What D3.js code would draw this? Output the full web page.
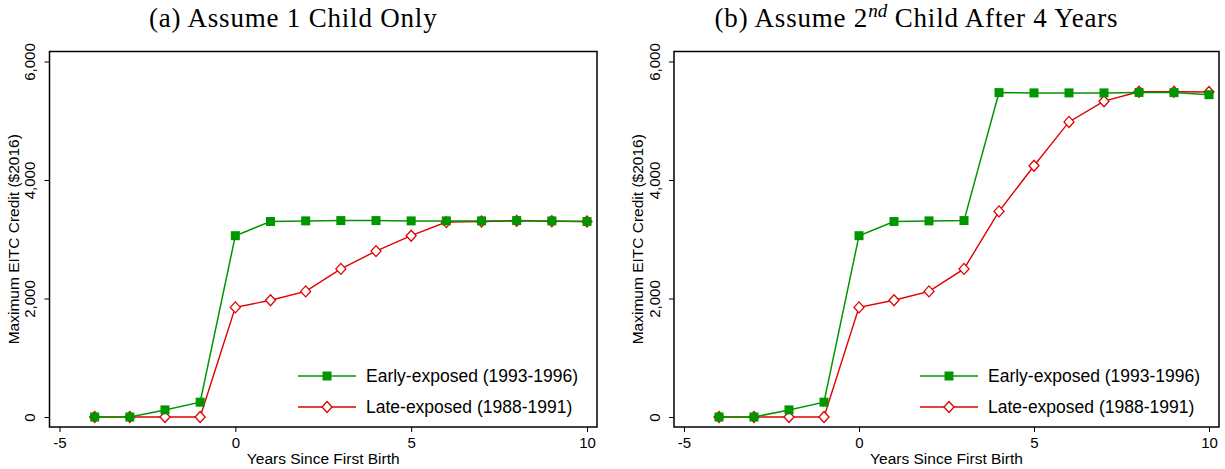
<!DOCTYPE html>
<meta charset="utf-8">
<script src="https://cdn.jsdelivr.net/npm/d3@7"></script>
<style>
  body { margin: 0; background: #fff; }
  text { font-family: "Liberation Sans", Arial, sans-serif; fill: #000; }
  .title { font-family: "Liberation Serif", "Times New Roman", serif; font-size: 27px; letter-spacing: 0.8px; }
  .tick text { font-size: 15px; }
  .axis-title { font-size: 15.5px; }
  .legend text { font-size: 17.5px; }
</style>
<body>
<script>

// years since first birth
var years = [-4, -3, -2, -1, 0, 1, 2, 3, 4, 5, 6, 7, 8, 9, 10];

// panel (a): assume 1 child only
var earlyA = [0, 0, 120, 250, 3060, 3300, 3310, 3315, 3315, 3310, 3310, 3310, 3315, 3310, 3300];
var lateA  = [0, 0, 0, 0, 1850, 1970, 2120, 2500, 2800, 3060, 3290, 3300, 3310, 3305, 3300];

// panel (b): assume 2nd child after 4 years
var earlyB = [0, 0, 120, 250, 3060, 3300, 3310, 3315, 5475, 5470, 5470, 5470, 5478, 5475, 5440];
var lateB  = [0, 0, 0, 0, 1850, 1970, 2120, 2500, 3470, 4240, 4980, 5330, 5490, 5490, 5485];

var xTicks = [-5, 0, 5, 10];
var yTicks = [0, 2000, 4000, 6000];
var seriesNames = ["Early-exposed (1993-1996)", "Late-exposed (1988-1991)"];

var width = 1225,
    height = 469;

var green = "#009600",
    red = "#e00000";

var panels = [
  { title: ["(a) Assume 1 Child Only"], early: earlyA, late: lateA, left: 49.5, right: 597 },
  { title: ["(b) Assume 2", "nd", " Child After 4 Years"], early: earlyB, late: lateB, left: 674, right: 1219 }
];

var plotTop = 51.5,
    plotBottom = 427;

var svg = d3.select("body").append("svg")
    .attr("width", width)
    .attr("height", height);

panels.forEach(function(p) {
  var g = svg.append("g");

  var x = d3.scaleLinear().domain([-5, 10]).range([p.left + 10, p.right - 10]);
  var y = d3.scaleLinear().domain([0, 6000]).range([plotBottom - 10, plotTop + 10]);

  // title
  var t = g.append("text")
      .attr("class", "title")
      .attr("x", (p.left + p.right) / 2 - 30)
      .attr("y", 27)
      .attr("text-anchor", "middle");
  t.append("tspan").text(p.title[0]);
  if (p.title.length > 1) {
    t.append("tspan")
        .attr("dy", -10)
        .style("font-size", "19px")
        .style("font-style", "italic")
        .style("letter-spacing", "0px")
        .text(p.title[1]);
    t.append("tspan")
        .attr("dy", 10)
        .text(p.title[2]);
  }

  // axes (ticks only, box drawn separately)
  var xAxis = g.append("g")
      .attr("transform", "translate(0," + plotBottom + ")")
      .call(d3.axisBottom(x).tickValues(xTicks).tickSize(5).tickFormat(function(d) { return String(d); }));
  xAxis.select(".domain").remove();
  xAxis.selectAll("text").attr("dy", null).attr("y", 21);

  var yAxis = g.append("g")
      .attr("transform", "translate(" + p.left + ",0)")
      .call(d3.axisLeft(y).tickValues(yTicks).tickSize(5).tickFormat(d3.format(",")));
  yAxis.select(".domain").remove();
  yAxis.selectAll("text")
      .attr("x", null).attr("dy", null)
      .attr("text-anchor", "middle")
      .attr("transform", "translate(-14.5,0) rotate(-90)");

  // plot box
  g.append("rect")
      .attr("x", p.left)
      .attr("y", plotTop)
      .attr("width", p.right - p.left)
      .attr("height", plotBottom - plotTop)
      .attr("fill", "none")
      .attr("stroke", "#000")
      .attr("stroke-width", 1.5);

  // axis titles
  g.append("text")
      .attr("class", "axis-title")
      .attr("text-anchor", "middle")
      .attr("x", (p.left + p.right) / 2)
      .attr("y", 464)
      .text("Years Since First Birth");

  g.append("text")
      .attr("class", "axis-title")
      .attr("text-anchor", "middle")
      .attr("transform", "translate(" + (p.left - 31) + "," + ((plotTop + plotBottom) / 2) + ") rotate(-90)")
      .text("Maximum EITC Credit ($2016)");

  var line = d3.line()
      .x(function(d) { return x(d[0]); })
      .y(function(d) { return y(d[1]); });

  var late = years.map(function(yr, i) { return [yr, p.late[i]]; });
  var early = years.map(function(yr, i) { return [yr, p.early[i]]; });

  // late-exposed: red hollow diamonds (drawn underneath)
  g.append("path")
      .attr("d", line(late))
      .attr("fill", "none")
      .attr("stroke", red)
      .attr("stroke-width", 1.4);

  var diamond = "M0,-5.5L5,0L0,5.5L-5,0Z";
  g.selectAll(".late")
      .data(late)
      .enter().append("path")
      .attr("class", "late")
      .attr("d", diamond)
      .attr("transform", function(d) { return "translate(" + x(d[0]) + "," + y(d[1]) + ")"; })
      .attr("fill", "#fff")
      .attr("stroke", red)
      .attr("stroke-width", 1.3);

  // early-exposed: green squares
  g.append("path")
      .attr("d", line(early))
      .attr("fill", "none")
      .attr("stroke", green)
      .attr("stroke-width", 1.5);

  g.selectAll(".early")
      .data(early)
      .enter().append("rect")
      .attr("class", "early")
      .attr("x", function(d) { return x(d[0]) - 4.5; })
      .attr("y", function(d) { return y(d[1]) - 4.5; })
      .attr("width", 9)
      .attr("height", 9)
      .attr("fill", green);

  // legend
  var lg = g.append("g").attr("class", "legend");
  var rows = [
    { name: seriesNames[0], color: green, y: 376 },
    { name: seriesNames[1], color: red, y: 407 }
  ];
  rows.forEach(function(r, i) {
    lg.append("line")
        .attr("x1", p.right - 299)
        .attr("x2", p.right - 241)
        .attr("y1", r.y)
        .attr("y2", r.y)
        .attr("stroke", r.color)
        .attr("stroke-width", 1.5);
    if (i === 0) {
      lg.append("rect")
          .attr("x", p.right - 270 - 4.5)
          .attr("y", r.y - 4.5)
          .attr("width", 9)
          .attr("height", 9)
          .attr("fill", green);
    } else {
      lg.append("path")
          .attr("d", diamond)
          .attr("transform", "translate(" + (p.right - 270) + "," + r.y + ")")
          .attr("fill", "#fff")
          .attr("stroke", red)
          .attr("stroke-width", 1.3);
    }
    lg.append("text")
        .attr("x", p.right - 231)
        .attr("y", r.y + 6)
        .text(r.name);
  });
});

</script>
</body>
